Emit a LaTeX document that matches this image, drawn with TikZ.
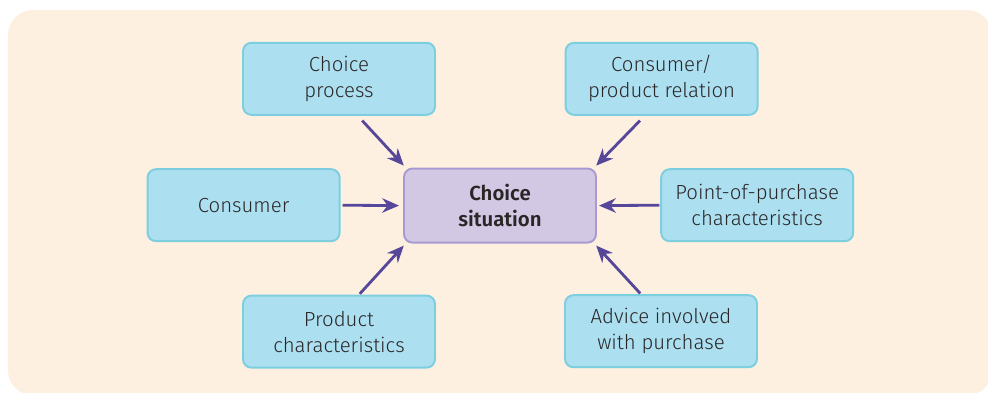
\documentclass[tikz,border=0pt]{standalone}
\usepackage{fontspec}
\setmainfont{Fira Sans Light}[BoldFont={Fira Sans SemiBold}]
\usepackage{xcolor}
\usepackage{tikz}
\usetikzlibrary{positioning,arrows.meta}
\definecolor{peach50}{HTML}{FDF0E1}
\definecolor{cyan200}{HTML}{ACDFF0}
\definecolor{cyan300}{HTML}{7DCFE0}
\definecolor{violet200}{HTML}{D3C8E4}
\definecolor{violet300}{HTML}{A99BD2}
\definecolor{violet700}{HTML}{56479A}
\definecolor{ink900}{HTML}{2A2627}
\tikzset{
  every node/.style={font=\fontsize{14.5}{18.5}\selectfont, text=ink900},
  factor/.style={
    rectangle, rounded corners=6pt,
    draw=cyan300, fill=cyan200, line width=1.4pt,
    minimum width=4.8cm, minimum height=1.8cm,
    align=center
  },
  hub/.style={
    rectangle, rounded corners=6pt,
    draw=violet300, fill=violet200, line width=1.4pt,
    minimum width=4.8cm, minimum height=1.85cm,
    align=center, font=\fontsize{14.5}{18.5}\selectfont\bfseries
  },
  arrow/.style={
    -{Stealth[length=4.2mm,width=3.6mm]},
    line width=2pt, draw=violet700
  },
}
\begin{document}
\begin{tikzpicture}
  \useasboundingbox (0,0) rectangle (24.7,9.8);
  \fill[peach50, rounded corners=0.62cm] (0.2,-0.08) rectangle (24.8,9.55);
  \node[hub] (situation) at (12.5,4.66) {Choice\\situation};
  \node[factor] (process) at (8.475,7.83) {Choice\\process};
  \node[factor] (relation) at (16.54,7.83) {Consumer/\\product relation};
  \node[factor] (consumer) at (6.09,4.67) {Consumer};
  \node[factor] (purchase) at (18.93,4.67) {Point-of-purchase\\characteristics};
  \node[factor] (product) at (8.475,1.51) {Product\\characteristics};
  \node[factor] (advice) at (16.525,1.52) {Advice involved\\with purchase};
  \draw[arrow] ([xshift=0.58cm,yshift=-0.12cm]process.south) -- ([xshift=0.02cm,yshift=0.05cm]situation.north west);
  \draw[arrow] ([xshift=-0.54cm,yshift=-0.12cm]relation.south) -- ([xshift=-0.02cm,yshift=0.05cm]situation.north east);
  \draw[arrow] ([xshift=0.05cm]consumer.east) -- ([xshift=-0.1cm]situation.west);
  \draw[arrow] ([xshift=-0.02cm]purchase.west) -- ([xshift=0.05cm]situation.east);
  \draw[arrow] ([xshift=0.52cm,yshift=0.02cm]product.north) -- ([xshift=0.02cm,yshift=-0.05cm]situation.south west);
  \draw[arrow] ([xshift=-0.52cm,yshift=0.02cm]advice.north) -- ([xshift=-0.02cm,yshift=-0.05cm]situation.south east);
\end{tikzpicture}
\end{document}
